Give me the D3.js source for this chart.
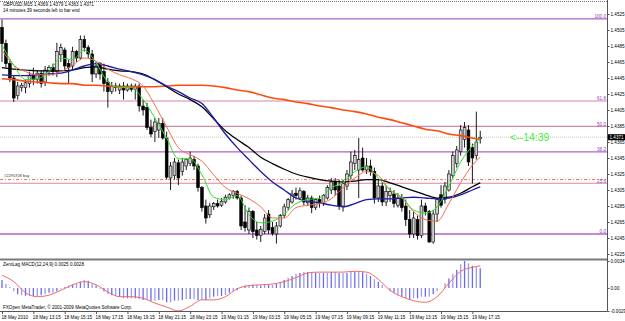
<!DOCTYPE html>
<html lang='en'>
<head>
<meta charset='utf-8'>
<title>GBPUSD,M15</title>
<script src='https://cdnjs.cloudflare.com/ajax/libs/d3/7.8.5/d3.min.js'></script>
<style>
body{margin:0;background:#fff}
text{font-family:'Liberation Sans',Arial,sans-serif}
</style>
</head>
<body>
<svg id='svg' width='625' height='321'></svg>
<script>
// candles, M15 bars, 18 May 11:15 .. 19 May 17:45
var opens=[1.4508,1.4488,1.4463,1.4445,1.4423,1.4433,1.4433,1.4438,1.4449,1.4443,
1.4451,1.4440,1.4453,1.4458,1.4453,1.4474,1.4480,1.4463,1.4460,1.4478,
1.4470,1.4493,1.4483,1.4475,1.4450,1.4463,1.4453,1.4440,1.4428,1.4435,
1.4430,1.4435,1.4430,1.4435,1.4431,1.4435,1.4410,1.4408,1.4383,1.4378,
1.4380,1.4388,1.4370,1.4320,1.4323,1.4339,1.4328,1.4335,1.4338,1.4343,
1.4335,1.4308,1.4285,1.4274,1.4284,1.4288,1.4286,1.4290,1.4295,1.4298,
1.4303,1.4295,1.4265,1.4255,1.4278,1.4255,1.4248,1.4253,1.4275,1.4258,
1.4250,1.4260,1.4273,1.4283,1.4290,1.4301,1.4295,1.4303,1.4289,1.4295,
1.4283,1.4293,1.4288,1.4295,1.4305,1.4315,1.4310,1.4285,1.4310,1.4323,
1.4338,1.4330,1.4345,1.4330,1.4335,1.4328,1.4295,1.4310,1.4290,1.4298,
1.4300,1.4286,1.4295,1.4285,1.4268,1.4250,1.4268,1.4248,1.4285,1.4278,
1.4240,1.4275,1.4299,1.4293,1.4305,1.4323,1.4338,1.4353,1.4368,1.4380,
1.4358,1.4348,1.4369];
var highs=[1.4518,1.4493,1.4468,1.4448,1.4440,1.4439,1.4443,1.4453,1.4458,1.4455,
1.4455,1.4460,1.4461,1.4463,1.4489,1.4488,1.4483,1.4468,1.4484,1.4480,
1.4498,1.4498,1.4486,1.4480,1.4465,1.4465,1.4463,1.4445,1.4440,1.4439,
1.4438,1.4440,1.4438,1.4438,1.4438,1.4438,1.4418,1.4414,1.4393,1.4395,
1.4395,1.4395,1.4378,1.4340,1.4345,1.4343,1.4345,1.4345,1.4353,1.4348,
1.4338,1.4310,1.4293,1.4289,1.4290,1.4293,1.4295,1.4299,1.4301,1.4305,
1.4305,1.4298,1.4286,1.4283,1.4280,1.4265,1.4260,1.4275,1.4280,1.4265,
1.4265,1.4275,1.4288,1.4295,1.4305,1.4308,1.4308,1.4305,1.4299,1.4298,
1.4295,1.4298,1.4300,1.4311,1.4320,1.4320,1.4318,1.4318,1.4330,1.4353,
1.4355,1.4370,1.4358,1.4345,1.4343,1.4333,1.4318,1.4315,1.4310,1.4308,
1.4305,1.4301,1.4300,1.4293,1.4280,1.4278,1.4273,1.4293,1.4289,1.4280,
1.4280,1.4295,1.4311,1.4315,1.4330,1.4353,1.4360,1.4386,1.4390,1.4386,
1.4363,1.4403,1.4379];
var lows=[1.4465,1.4458,1.4440,1.4415,1.4418,1.4428,1.4426,1.4433,1.4436,1.4438,
1.4433,1.4435,1.4448,1.4448,1.4446,1.4465,1.4455,1.4438,1.4455,1.4465,
1.4468,1.4478,1.4470,1.4440,1.4445,1.4443,1.4428,1.4408,1.4425,1.4428,
1.4425,1.4418,1.4428,1.4428,1.4418,1.4403,1.4398,1.4380,1.4371,1.4365,
1.4370,1.4368,1.4318,1.4305,1.4318,1.4311,1.4323,1.4330,1.4335,1.4330,
1.4303,1.4278,1.4263,1.4270,1.4280,1.4283,1.4284,1.4288,1.4293,1.4294,
1.4293,1.4255,1.4253,1.4250,1.4245,1.4243,1.4240,1.4250,1.4250,1.4248,
1.4238,1.4258,1.4270,1.4280,1.4288,1.4293,1.4293,1.4286,1.4285,1.4276,
1.4280,1.4283,1.4285,1.4293,1.4300,1.4298,1.4280,1.4278,1.4305,1.4318,
1.4330,1.4295,1.4328,1.4325,1.4323,1.4288,1.4290,1.4285,1.4285,1.4290,
1.4283,1.4283,1.4278,1.4260,1.4245,1.4245,1.4243,1.4245,1.4273,1.4239,
1.4238,1.4265,1.4283,1.4288,1.4303,1.4320,1.4333,1.4348,1.4358,1.4335,
1.4313,1.4343,1.4363];
var closes=[1.4488,1.4463,1.4445,1.4420,1.4435,1.4436,1.4439,1.4448,1.4443,1.4451,
1.4438,1.4455,1.4458,1.4453,1.4478,1.4483,1.4460,1.4458,1.4478,1.4470,
1.4493,1.4483,1.4475,1.4450,1.4460,1.4450,1.4438,1.4428,1.4435,1.4433,
1.4435,1.4430,1.4435,1.4431,1.4435,1.4410,1.4405,1.4383,1.4375,1.4390,
1.4388,1.4370,1.4321,1.4335,1.4340,1.4320,1.4340,1.4343,1.4345,1.4335,
1.4308,1.4283,1.4270,1.4285,1.4288,1.4285,1.4291,1.4296,1.4299,1.4303,
1.4295,1.4260,1.4258,1.4278,1.4253,1.4248,1.4256,1.4270,1.4255,1.4251,
1.4260,1.4273,1.4284,1.4293,1.4300,1.4298,1.4304,1.4290,1.4295,1.4283,
1.4293,1.4288,1.4298,1.4308,1.4315,1.4305,1.4285,1.4313,1.4325,1.4340,
1.4348,1.4343,1.4330,1.4335,1.4328,1.4295,1.4310,1.4290,1.4303,1.4303,
1.4288,1.4295,1.4283,1.4268,1.4250,1.4270,1.4248,1.4285,1.4278,1.4240,
1.4275,1.4293,1.4286,1.4310,1.4325,1.4348,1.4355,1.4380,1.4383,1.4340,
1.4345,1.4365,1.4371];

// moving averages read at every third bar
var maIdx=[0,3,6,9,12,15,18,21,24,27,30,33,36,39,42,45,48,51,54,57,60,63,66,69,72,75,78,81,84,87,90,93,96,99,102,105,108,111,114,117,120,122];
var maGreen=[1.4486,1.4461,1.4443,1.4444,1.4453,1.4470,1.4468,1.4480,1.4464,1.4440,1.4433,1.4433,1.4418,1.4395,1.4370,1.4344,1.4344,1.4324,1.4296,1.4293,1.4298,1.4274,1.4264,1.4266,1.4275,1.4288,1.4293,1.4295,1.4308,1.4314,1.4328,1.4334,1.4320,1.4305,1.4296,1.4280,1.4276,1.4284,1.4310,1.4340,1.4360,1.4370];
var maRed=[1.4480,1.4461,1.4453,1.4449,1.4449,1.4453,1.4461,1.4470,1.4466,1.4456,1.4449,1.4444,1.4435,1.4411,1.4384,1.4358,1.4349,1.4341,1.4324,1.4308,1.4301,1.4294,1.4284,1.4270,1.4270,1.4283,1.4286,1.4288,1.4294,1.4308,1.4320,1.4328,1.4323,1.4305,1.4295,1.4278,1.4268,1.4266,1.4288,1.4314,1.4336,1.4346];
var maBlack=[1.4458,1.4456,1.4455,1.4454,1.4454,1.4454,1.4455,1.4458,1.4459,1.4456,1.4454,1.4453,1.4450,1.4443,1.4434,1.4425,1.4418,1.4409,1.4394,1.4379,1.4368,1.4358,1.4346,1.4338,1.4331,1.4325,1.4321,1.4318,1.4316,1.4315,1.4316,1.4318,1.4318,1.4314,1.4309,1.4304,1.4299,1.4295,1.4296,1.4301,1.4309,1.4314];
var maBlue=[1.4449,1.4448,1.4448,1.4449,1.4450,1.4451,1.4455,1.4460,1.4463,1.4460,1.4456,1.4453,1.4449,1.4443,1.4435,1.4428,1.4420,1.4413,1.4395,1.4375,1.4358,1.4343,1.4328,1.4315,1.4305,1.4295,1.4291,1.4289,1.4286,1.4284,1.4288,1.4293,1.4294,1.4294,1.4295,1.4296,1.4295,1.4294,1.4295,1.4299,1.4305,1.4309];
var maOrange=[1.4444,1.4443,1.4441,1.4440,1.4439,1.4438,1.4438,1.4436,1.4436,1.4435,1.4434,1.4434,1.4434,1.4434,1.4435,1.4436,1.4436,1.4436,1.4435,1.4433,1.4430,1.4428,1.4424,1.4420,1.4418,1.4415,1.4413,1.4410,1.4408,1.4405,1.4403,1.4400,1.4396,1.4393,1.4389,1.4385,1.4381,1.4379,1.4375,1.4373,1.4370,1.4368];

// ZeroLag MACD
var macdHist=[0.0010,0.0005,0.0001,-0.0004,-0.0008,-0.0009,-0.0010,-0.0010,-0.0010,-0.0010,
-0.0009,-0.0008,-0.0006,-0.0006,-0.0004,-0.0001,0.0001,0.0003,0.0004,0.0005,
0.0008,0.0010,0.0009,0.0005,0.0003,-0.0001,-0.0004,-0.0008,-0.0009,-0.0010,
-0.0011,-0.0013,-0.0013,-0.0013,-0.0013,-0.0014,-0.0015,-0.0015,-0.0016,-0.0016,
-0.0015,-0.0015,-0.0018,-0.0018,-0.0016,-0.0016,-0.0015,-0.0014,-0.0014,-0.0014,
-0.0015,-0.0015,-0.0015,-0.0013,-0.0011,-0.0010,-0.0010,-0.0009,-0.0006,-0.0004,
-0.0003,0.0001,0.0003,0.0003,0.0004,0.0004,0.0003,0.0004,0.0004,0.0004,
0.0005,0.0008,0.0010,0.0013,0.0015,0.0018,0.0019,0.0020,0.0020,0.0019,
0.0019,0.0019,0.0019,0.0019,0.0020,0.0020,0.0019,0.0019,0.0019,0.0020,
0.0020,0.0020,0.0020,0.0018,0.0015,0.0011,0.0008,0.0004,0.0000,-0.0004,
-0.0006,-0.0009,-0.0011,-0.0013,-0.0014,-0.0013,-0.0013,-0.0011,-0.0011,-0.0011,
-0.0008,-0.0004,0.0000,0.0006,0.0012,0.0018,0.0023,0.0030,0.0034,0.0031,
0.0028,0.0026,0.0025];
var macdSignal=[0.0016,0.0008,-0.0006,-0.0011,-0.0009,-0.0003,0.0004,0.0008,0.0004,-0.0005,-0.0011,-0.0011,-0.0013,-0.0019,-0.0024,-0.0029,-0.0023,-0.0015,-0.0015,-0.0011,-0.0001,0.0003,0.0004,0.0005,0.0008,0.0013,0.0019,0.0020,0.0020,0.0020,0.0021,0.0020,0.0011,-0.0003,-0.0011,-0.0016,-0.0018,-0.0011,0.0006,0.0021,0.0026,0.0028];

var timeIdx=[0,8,16,24,32,40,48,56,64,72,80,88,96,104,112,120];
var timeLabels=['18 May 2010','18 May 13:15','18 May 15:15','18 May 17:15','18 May 19:15','18 May 21:15','18 May 23:15','19 May 01:15','19 May 03:15','19 May 05:15','19 May 07:15','19 May 09:15','19 May 11:15','19 May 13:15','19 May 15:15','19 May 17:15'];
var priceTicks=[1.4525,1.4505,1.4485,1.4465,1.4445,1.4425,1.4405,1.4385,1.4365,1.4345,1.4325,1.4305,1.4285,1.4265,1.4245,1.4225];
var macdTicks=[0.0034,0,-0.0029];
var macdTickLabels=['0.0034','0.00','-0.0029'];

var fibLevels=[100.0,61.8,50.0,38.2,23.6,0.0];
var fibHigh=1.4519, fibLow=1.4250;
var orderPrice=1.4318, orderText='#2295708 buy';
var bid=1.4371;

var svg=d3.select('#svg');
var right=607;
var x=d3.scaleLinear().domain([0,122]).range([2,480.24]);
var y=d3.scaleLinear().domain([1.4225,1.4525]).range([254,14]);
var ym=d3.scaleLinear().domain([-0.0029,0.0034]).range([311,261]);

svg.append('rect').attr('width',625).attr('height',321).attr('fill','#fff');

var defs=svg.append('defs');
defs.append('clipPath').attr('id','cMain').append('rect').attr('x',0).attr('y',0).attr('width',right).attr('height',258);
defs.append('clipPath').attr('id','cMacd').append('rect').attr('x',0).attr('y',261).attr('width',right).attr('height',50);

var main=svg.append('g').attr('clip-path','url(#cMain)');

// top dotted line
main.append('line').attr('x1',0).attr('x2',right).attr('y1',1.5).attr('y2',1.5)
	.attr('stroke','#777').attr('stroke-dasharray','1,1');

// fibonacci levels
fibLevels.forEach(function(l){
	var p=fibLow+(fibHigh-fibLow)*l/100;
	var strong=(l==100||l==38.2||l==0);
	main.append('line').attr('x1',0).attr('x2',right).attr('y1',y(p)).attr('y2',y(p))
		.attr('stroke',strong?'#b060c8':'#d08aa8').attr('stroke-width',strong?1.3:1.1);
	svg.append('text').attr('x',right-1).attr('y',y(p)-0.6).attr('text-anchor','end')
		.attr('font-size',4.6).attr('fill','#9040b0').text(l.toFixed(1));
});

// bid line and order line
main.append('line').attr('x1',0).attr('x2',right).attr('y1',y(bid)).attr('y2',y(bid))
	.attr('stroke','#c8cca8').attr('stroke-dasharray','1,1');
main.append('line').attr('x1',0).attr('x2',right).attr('y1',y(orderPrice)).attr('y2',y(orderPrice))
	.attr('stroke','#f07050').attr('stroke-dasharray','3,2,1,2');
svg.append('text').attr('x',4).attr('y',y(orderPrice)-2.5).attr('font-size',4).attr('fill','#333').text(orderText);

// candles
var bars=d3.range(opens.length);
var cg=main.append('g');
cg.selectAll('.wick').data(bars).enter().append('line').attr('class','wick')
	.attr('x1',i=>x(i)).attr('x2',i=>x(i)).attr('y1',i=>y(highs[i])).attr('y2',i=>y(lows[i]))
	.attr('stroke','#000').attr('stroke-width',0.9);
cg.selectAll('.body').data(bars).enter().append('rect').attr('class','body')
	.attr('x',i=>x(i)-1.4).attr('width',2.8)
	.attr('y',i=>y(Math.max(opens[i],closes[i])))
	.attr('height',i=>Math.max(0.8,Math.abs(y(opens[i])-y(closes[i]))))
	.attr('fill',i=>closes[i]>=opens[i]?'#d0d0d0':'#000')
	.attr('stroke','#000').attr('stroke-width',0.6);

// moving averages
function maLine(vals){
	return d3.line().x((d,k)=>x(maIdx[k])).y(d=>y(d)).curve(d3.curveMonotoneX)(vals);
}
main.append('path').attr('d',maLine(maOrange)).attr('fill','none').attr('stroke','#ff4a10').attr('stroke-width',1.6);
main.append('path').attr('d',maLine(maBlack)).attr('fill','none').attr('stroke','#000').attr('stroke-width',1.25);
main.append('path').attr('d',maLine(maBlue)).attr('fill','none').attr('stroke','#1c1ca8').attr('stroke-width',1.35);
main.append('path').attr('d',maLine(maRed)).attr('fill','none').attr('stroke','#f86a50').attr('stroke-width',1);
main.append('path').attr('d',maLine(maGreen)).attr('fill','none').attr('stroke','#2ee02e').attr('stroke-width',1);

// countdown text
svg.append('text').attr('x',510).attr('y',y(bid)+4).attr('font-family','Liberation Serif')
	.attr('font-size',10.5).attr('fill','#3ef03e').text('<--14:39');

// title
svg.append('text').attr('x',3).attr('y',5.6).attr('font-size',4.6).attr('fill','#000').text('GBPUSD,M15  1.4369 1.4379 1.4363 1.4371');
svg.append('text').attr('x',3).attr('y',12).attr('font-size',4.6).attr('fill','#000').text('14 minutes 39 seconds left to bar end');

// pane separator
svg.append('rect').attr('x',0).attr('y',258.5).attr('width',right).attr('height',2).attr('fill','#7a7a7a');

// MACD pane
var mg=svg.append('g').attr('clip-path','url(#cMacd)');
mg.selectAll('.hist').data(macdHist).enter().append('line').attr('class','hist')
	.attr('x1',(d,i)=>x(i)).attr('x2',(d,i)=>x(i)).attr('y1',ym(0)).attr('y2',d=>ym(d))
	.attr('stroke',(d,i)=>(i%2?'#9a9af2':'#6a6aee')).attr('stroke-width',1.3);
mg.append('path').attr('fill','none').attr('stroke','#f26a5a').attr('stroke-width',1)
	.attr('d',d3.line().x((d,k)=>x(maIdx[k])).y(d=>ym(d)).curve(d3.curveMonotoneX)(macdSignal));
svg.append('text').attr('x',3).attr('y',265.6).attr('font-size',4.6).attr('fill','#000').text('ZeroLag MACD(12,24,9) 0.0025 0.0028');
svg.append('text').attr('x',3).attr('y',309).attr('font-size',4.6).attr('fill','#000').text('FXOpen MetaTrader, \u00a9 2001-2009 MetaQuotes Software Corp.');

// borders
svg.append('line').attr('x1',right+0.5).attr('x2',right+0.5).attr('y1',0).attr('y2',311.5).attr('stroke','#555');
svg.append('line').attr('x1',0).attr('x2',right+0.5).attr('y1',311.5).attr('y2',311.5).attr('stroke','#555');

// price axis
var ya=svg.append('g').attr('transform','translate('+(right+0.5)+',0)')
	.call(d3.axisRight(y).tickValues(priceTicks).tickSize(2).tickPadding(1).tickFormat(d3.format('.4f')));
ya.select('.domain').remove();
ya.selectAll('text').attr('font-size',4.6).attr('font-family','Liberation Sans');
ya.selectAll('line').attr('stroke','#555');

// current price box
svg.append('rect').attr('x',right+1).attr('y',y(bid)-3).attr('width',17).attr('height',6).attr('fill','#000');
svg.append('text').attr('x',right+2.5).attr('y',y(bid)+1.7).attr('font-size',4.6).attr('fill','#fff').text(bid.toFixed(4));

// macd axis
var ma=svg.append('g').attr('transform','translate('+(right+0.5)+',0)')
	.call(d3.axisRight(ym).tickValues(macdTicks).tickSize(2).tickPadding(1).tickFormat((d,i)=>macdTickLabels[i]));
ma.select('.domain').remove();
ma.selectAll('text').attr('font-size',4.6).attr('font-family','Liberation Sans');
ma.selectAll('line').attr('stroke','#555');

// time axis
var xa=svg.append('g').attr('transform','translate(0,311.5)')
	.call(d3.axisBottom(x).tickValues(timeIdx).tickSize(2.5).tickPadding(2).tickFormat((d,i)=>timeLabels[i]));
xa.select('.domain').remove();
xa.selectAll('text').attr('font-size',4.6).attr('font-family','Liberation Sans').attr('text-anchor','start').attr('dx',-1);
xa.selectAll('line').attr('stroke','#555');
</script>
</body>
</html>
